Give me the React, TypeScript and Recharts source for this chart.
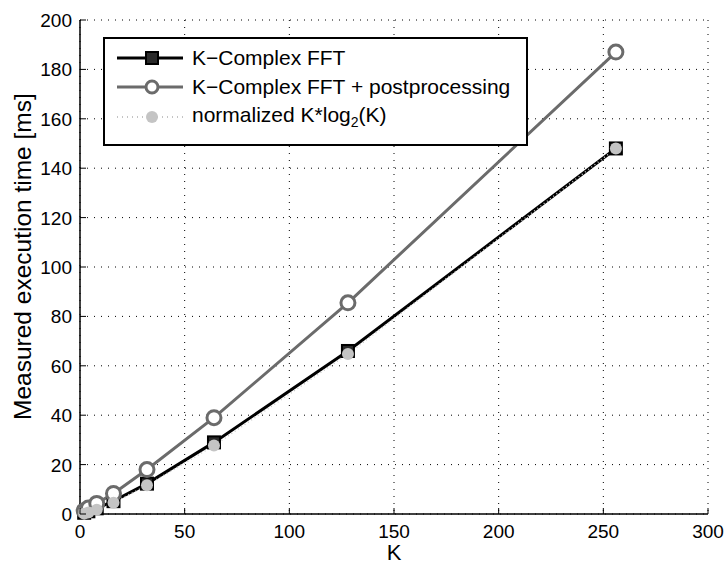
import { LineChart, Line, XAxis, YAxis, CartesianGrid } from 'recharts';

const kValues = [2, 4, 8, 16, 32, 64, 128, 256];
const fftTime = [0.5, 1.1, 2.3, 5.2, 12.3, 29, 66, 148];
const postTime = [1.3, 2.4, 4.3, 8.3, 18, 39, 85.5, 187];
const normTime = [0.15, 0.6, 1.7, 4.6, 11.6, 27.7, 64.8, 148];

const xTicks = [0, 50, 100, 150, 200, 250, 300];
const yTicks = [0, 20, 40, 60, 80, 100, 120, 140, 160, 180, 200];

const FONT = '"Liberation Sans", Arial, sans-serif';
const GRAY = '#6b6b6b';
const LIGHT = '#c4c4c4';

const data = kValues.map((k, i) => ({ k, fft: fftTime[i], post: postTime[i], norm: normTime[i] }));

const SquareDot = (props: any) => {
    const { cx, cy, index } = props;
    return <rect key={index} x={cx - 6} y={cy - 6} width={12} height={12} fill="#2a2a2a" stroke="#000" strokeWidth={2} />;
};

const BottomTick = ({ x, y, payload }: any) => (
    <g>
        <line x1={x} x2={x} y1={y} y2={y - 6} stroke="#000" />
        <text x={x} y={y + 24} textAnchor="middle" fontSize={19} fill="#000" fontFamily={FONT}>{payload.value}</text>
    </g>
);

const LeftTick = ({ x, y, payload }: any) => (
    <g>
        <line x1={x} x2={x + 6} y1={y} y2={y} stroke="#000" />
        <text x={x - 8} y={y + 7} textAnchor="end" fontSize={19} fill="#000" fontFamily={FONT}>{payload.value}</text>
    </g>
);

const TopTick = ({ x, y }: any) => <line x1={x} x2={x} y1={y} y2={y + 6} stroke="#000" />;
const RightTick = ({ x, y }: any) => <line x1={x} x2={x - 6} y1={y} y2={y} stroke="#000" />;

function LegendBox() {
    const row = { display: 'flex', alignItems: 'center', height: 29.5 } as const;
    const sample = { marginLeft: 12, flex: 'none' } as const;
    return (
        <div style={{ position: 'absolute', left: 103, top: 37, width: 421, height: 101, border: '2px solid #000', background: '#fff', fontFamily: FONT, fontSize: 21, paddingTop: 4, boxSizing: 'content-box' }}>
            <div style={row}>
                <svg width={75} height={20} style={sample}>
                    <line x1={0} x2={66} y1={10} y2={10} stroke="#000" strokeWidth={3} />
                    <rect x={29} y={4} width={12} height={12} fill="#2a2a2a" stroke="#000" strokeWidth={2} />
                </svg>
                <span>K−Complex FFT</span>
            </div>
            <div style={row}>
                <svg width={75} height={20} style={sample}>
                    <line x1={0} x2={66} y1={10} y2={10} stroke={GRAY} strokeWidth={3} />
                    <circle cx={35} cy={10} r={6} fill="#fff" stroke={GRAY} strokeWidth={3} />
                </svg>
                <span>K−Complex FFT + postprocessing</span>
            </div>
            <div style={row}>
                <svg width={75} height={20} style={sample}>
                    <line x1={0} x2={66} y1={10} y2={10} stroke={LIGHT} strokeWidth={2} strokeDasharray="1 4" />
                    <circle cx={35} cy={10} r={6} fill={LIGHT} />
                </svg>
                <span>normalized K*log<sub style={{ fontSize: 14 }}>2</sub>(K)</span>
            </div>
        </div>
    );
}

export default function App() {
    return (
        <div style={{ position: 'absolute', left: 0, top: 0, width: 726, height: 564, background: '#fff' }}>
            <LineChart width={726} height={564} data={data} margin={{ top: 20, right: 18, left: 0, bottom: 0 }}>
                <CartesianGrid stroke="#000" strokeDasharray="1 6" strokeWidth={1} />
                <XAxis
                    xAxisId={0}
                    dataKey="k"
                    type="number"
                    domain={[0, 300]}
                    ticks={xTicks}
                    tickSize={0}
                    tickMargin={0}
                    height={50}
                    tick={BottomTick}
                    tickLine={false}
                    axisLine={{ stroke: '#000', strokeWidth: 1.5 }}
                    label={{ value: 'K', position: 'insideBottom', offset: 4, fontSize: 22, fill: '#000', fontFamily: FONT }}
                />
                <XAxis
                    xAxisId="top"
                    orientation="top"
                    dataKey="k"
                    type="number"
                    domain={[0, 300]}
                    ticks={xTicks}
                    tickSize={0}
                    tickMargin={0}
                    height={0}
                    tick={TopTick}
                    tickLine={false}
                    axisLine={{ stroke: '#000', strokeWidth: 1.5 }}
                />
                <YAxis
                    yAxisId={0}
                    type="number"
                    domain={[0, 200]}
                    ticks={yTicks}
                    tickSize={0}
                    tickMargin={0}
                    width={80}
                    tick={LeftTick}
                    tickLine={false}
                    axisLine={{ stroke: '#000', strokeWidth: 1.5 }}
                    label={{ value: 'Measured execution time [ms]', angle: -90, position: 'insideLeft', offset: 22, dy: 153, fontSize: 24.5, fill: '#000', fontFamily: FONT }}
                />
                <YAxis
                    yAxisId="right"
                    orientation="right"
                    type="number"
                    domain={[0, 200]}
                    ticks={yTicks}
                    tickSize={0}
                    tickMargin={0}
                    width={0}
                    tick={RightTick}
                    tickLine={false}
                    axisLine={{ stroke: '#000', strokeWidth: 1.5 }}
                />
                <Line dataKey="fft" stroke="#000" strokeWidth={3} dot={SquareDot} isAnimationActive={false} />
                <Line dataKey="post" stroke={GRAY} strokeWidth={3} dot={{ r: 7, fill: '#fff', stroke: GRAY, strokeWidth: 3 }} isAnimationActive={false} />
                <Line dataKey="norm" stroke={LIGHT} strokeWidth={1.5} strokeDasharray="1 3" dot={{ r: 6, fill: LIGHT, stroke: LIGHT, strokeWidth: 0 }} isAnimationActive={false} />
            </LineChart>
            <LegendBox />
        </div>
    );
}
